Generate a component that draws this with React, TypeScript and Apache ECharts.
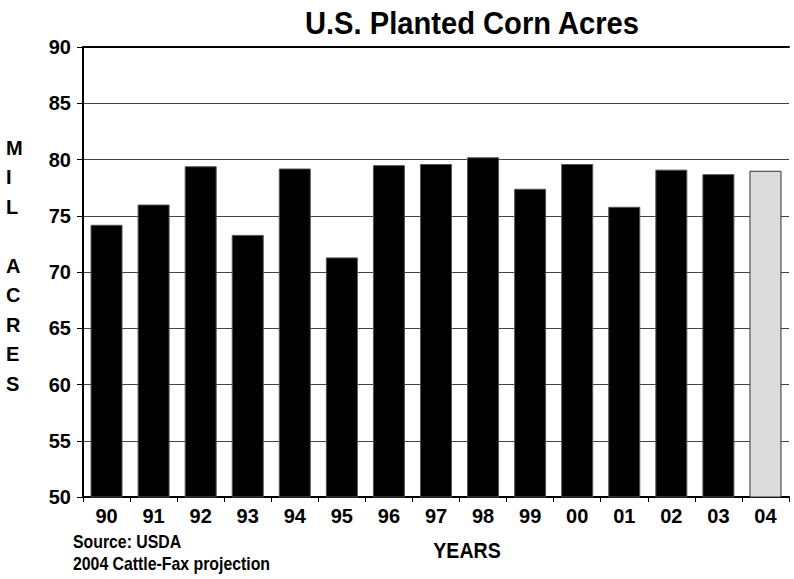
import React, { useEffect, useRef } from "react";
import * as echarts from "echarts";

const categories = ["90", "91", "92", "93", "94", "95", "96", "97", "98", "99", "00", "01", "02", "03", "04"];
const acres = [74.2, 76.0, 79.4, 73.3, 79.2, 71.3, 79.5, 79.6, 80.2, 77.4, 79.6, 75.8, 79.1, 78.7, 79.0];
const projectedIndex = 14;
const yTicks = { min: 50, max: 90, interval: 5 };

const FONT = "'Liberation Sans Narrow', 'Arial Narrow', 'Liberation Sans', Arial, sans-serif";

export default function App() {
  const ref = useRef<HTMLDivElement>(null);
  useEffect(() => {
    if (!ref.current) return;
    const chart = echarts.init(ref.current, undefined, { renderer: "svg" });
    chart.setOption({
      animation: false,
      backgroundColor: "#ffffff",
      grid: { left: 83, right: 5, top: 47, bottom: 82, containLabel: false },
      xAxis: [
        {
          type: "category",
          data: categories,
          boundaryGap: true,
          axisLine: { show: true, lineStyle: { color: "#000", width: 2 } },
          axisTick: { show: true, length: 5, lineStyle: { color: "#000", width: 1 } },
          axisLabel: { margin: 9, fontFamily: FONT, fontWeight: "bold", fontSize: 20, color: "#000" },
          splitLine: { show: false },
        },
        {
          type: "category",
          data: categories,
          position: "top",
          axisLine: { show: true, lineStyle: { color: "#000", width: 2 } },
          axisTick: { show: false },
          axisLabel: { show: false },
        },
      ],
      yAxis: {
        type: "value",
        min: yTicks.min,
        max: yTicks.max,
        interval: yTicks.interval,
        axisLine: { show: true, lineStyle: { color: "#000", width: 2 } },
        axisTick: { show: true, length: 6, lineStyle: { color: "#000", width: 1 } },
        axisLabel: { margin: 12, fontFamily: FONT, fontWeight: "bold", fontSize: 20, color: "#000" },
        splitLine: { show: true, lineStyle: { color: "#444", width: 1 } },
      },
      series: [
        {
          type: "bar",
          data: acres.map((v, i) =>
            i === projectedIndex
              ? { value: v, itemStyle: { color: "#dcdcdc", borderColor: "#333", borderWidth: 1 } }
              : { value: v, itemStyle: { color: "#000", borderColor: "#555", borderWidth: 1 } }
          ),
          barWidth: "68%",
        },
      ],
      graphic: [
        {
          type: "text",
          x: 472,
          y: 8,
          scaleX: 0.94,
          style: {
            text: "U.S. Planted Corn Acres",
            fontFamily: FONT,
            fontWeight: "bold",
            fontSize: 31,
            align: "center",
            verticalAlign: "top",
            fill: "#000",
          },
        },
        {
          type: "text",
          left: 6,
          top: 133,
          style: {
            text: "M\nI\nL\n\nA\nC\nR\nE\nS",
            fontFamily: FONT,
            fontWeight: "bold",
            fontSize: 20,
            lineHeight: 29.5,
            align: "center",
            width: 20,
            fill: "#000",
          },
        },
        {
          type: "text",
          x: 467,
          y: 539,
          scaleX: 0.89,
          style: {
            text: "YEARS",
            fontFamily: FONT,
            fontWeight: "bold",
            fontSize: 22,
            align: "center",
            verticalAlign: "top",
            fill: "#000",
          },
        },
        {
          type: "text",
          x: 73,
          y: 531,
          scaleX: 0.88,
          style: {
            text: "Source: USDA\n2004 Cattle-Fax projection",
            fontFamily: FONT,
            fontWeight: "bold",
            fontSize: 18,
            lineHeight: 22,
            align: "left",
            verticalAlign: "top",
            fill: "#000",
          },
        },
      ],
    });
    return () => chart.dispose();
  }, []);
  return <div ref={ref} style={{ width: 794, height: 579, position: "absolute", left: 0, top: 0 }} />;
}
